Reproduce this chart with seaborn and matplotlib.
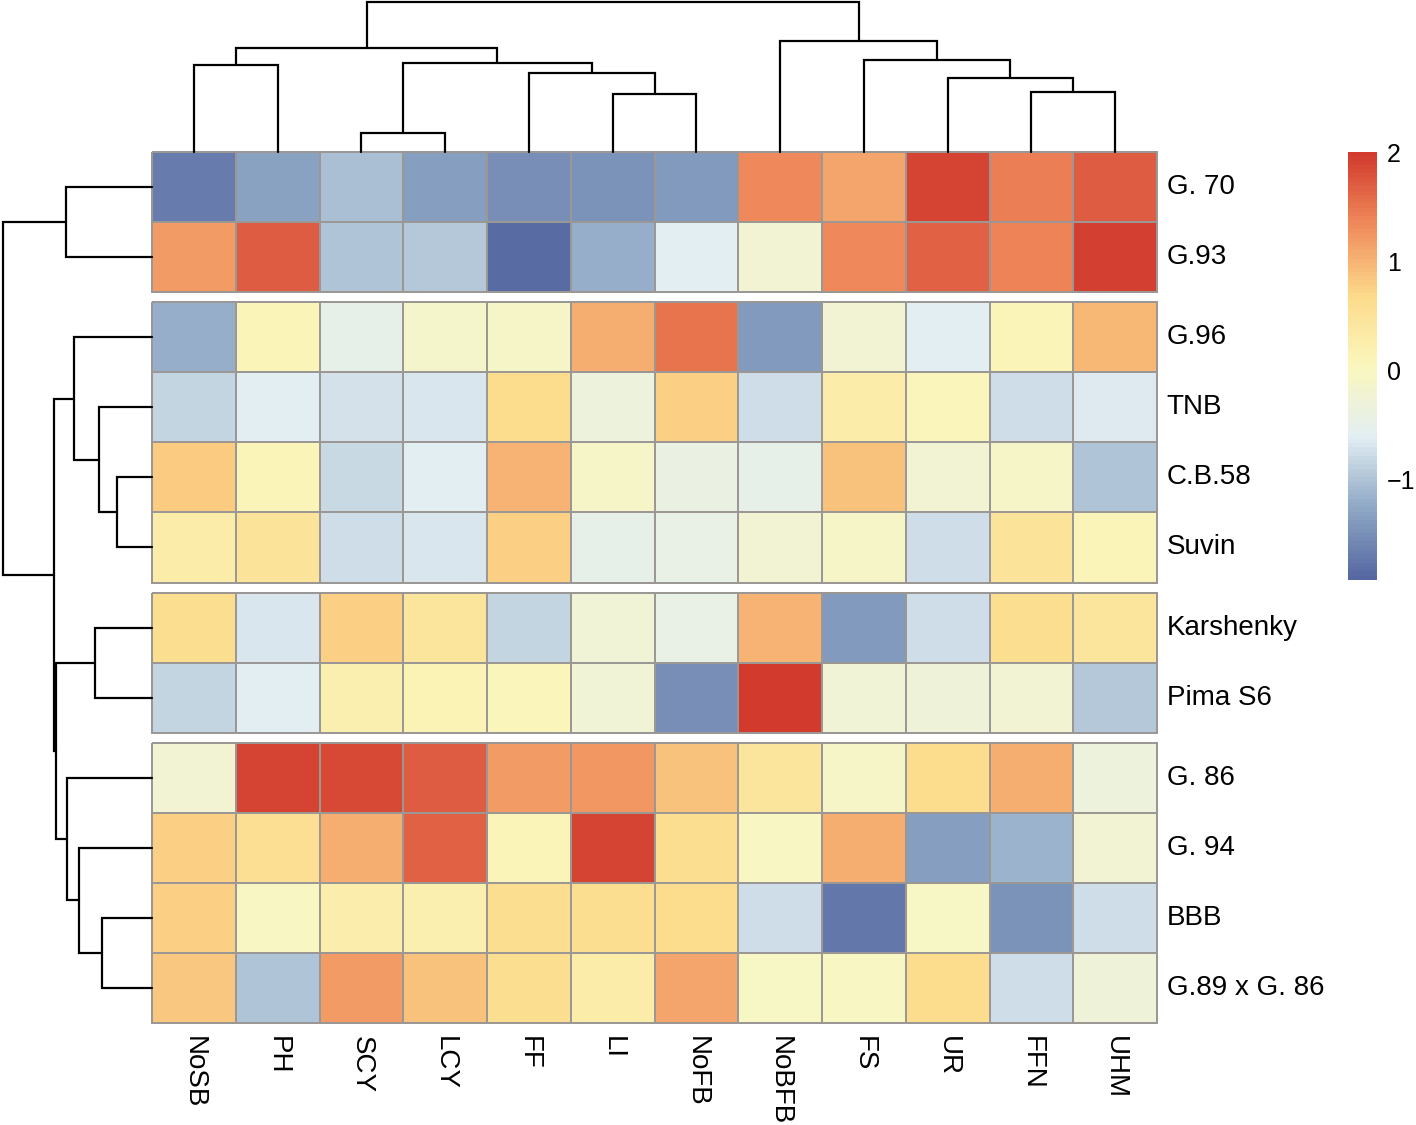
import numpy as np
import pandas as pd
import matplotlib
matplotlib.use("Agg")
import matplotlib.pyplot as plt
import seaborn as sns
from matplotlib.colors import LinearSegmentedColormap, Normalize
from matplotlib.cm import ScalarMappable

sns.set_style("white")
plt.rcParams['font.family'] = ['Liberation Sans', 'DejaVu Sans']
plt.rcParams['text.color'] = 'black'
plt.rcParams['xtick.color'] = 'black'
plt.rcParams['ytick.color'] = 'black'

# ---------------- data ----------------
traits = ["NoSB", "PH", "SCY", "LCY", "FF", "LI", "NoFB", "NoBFB", "FS", "UR", "FFN", "UHM"]
genotypes = ["G. 70", "G.93", "G.96", "TNB", "C.B.58", "Suvin", "Karshenky",
             "Pima S6", "G. 86", "G. 94", "BBB", "G.89 x G. 86"]
row_groups = [2, 4, 2, 4]

g70 = [-1.70, -1.30, -1.05, -1.35, -1.50, -1.45, -1.40, 1.35, 1.10, 1.90, 1.45, 1.70]
g93 = [1.20, 1.70, -1.00, -0.95, -1.85, -1.20, -0.60, -0.20, 1.35, 1.65, 1.40, 1.95]
g96 = [-1.20, 0.10, -0.50, -0.15, -0.10, 1.05, 1.50, -1.40, -0.20, -0.62, 0.10, 0.95]
tnb = [-0.85, -0.60, -0.72, -0.67, 0.65, -0.35, 0.75, -0.75, 0.30, 0.05, -0.75, -0.63]
cb58 = [0.80, 0.10, -0.80, -0.60, 1.00, -0.10, -0.40, -0.50, 0.90, -0.20, -0.10, -1.00]
suvin = [0.30, 0.50, -0.75, -0.67, 0.75, -0.50, -0.45, -0.20, -0.10, -0.75, 0.50, 0.10]
karsh = [0.60, -0.67, 0.75, 0.45, -0.85, -0.25, -0.45, 1.00, -1.40, -0.75, 0.60, 0.45]
pima = [-0.85, -0.60, 0.20, 0.15, 0.05, -0.25, -1.50, 2.00, -0.25, -0.30, -0.20, -0.95]
g86 = [-0.20, 1.90, 1.85, 1.70, 1.20, 1.25, 0.90, 0.45, -0.10, 0.65, 1.05, -0.35]
g94 = [0.75, 0.55, 1.05, 1.65, 0.10, 1.90, 0.60, 0.00, 1.05, -1.35, -1.15, -0.20]
bbb = [0.75, 0.00, 0.25, 0.20, 0.60, 0.62, 0.65, -0.75, -1.75, -0.05, -1.45, -0.75]
g89 = [0.85, -1.00, 1.20, 0.90, 0.60, 0.30, 1.10, -0.05, 0.00, 0.65, -0.75, -0.30]

# hierarchical merges (child_a, child_b, height); ids < 12 are leaves
col_merges = [(2, 3, 1.9), (5, 6, 5.8), (10, 11, 6.0), (9, 14, 7.4), (4, 13, 7.9),
              (0, 1, 8.7), (12, 16, 8.9), (8, 15, 9.2), (17, 18, 10.4), (7, 19, 11.1),
              (20, 21, 15.0)]
row_merges = [(4, 5, 3.5), (10, 11, 5.0), (3, 12, 5.3), (6, 7, 5.7), (9, 13, 7.3),
              (2, 14, 7.8), (8, 16, 8.5), (0, 1, 8.6), (15, 18, 9.65), (17, 20, 9.8),
              (19, 21, 14.9)]

vmin, vmax = -1.92, 2.0

df = pd.DataFrame([g70, g93, g96, tnb, cb58, suvin, karsh, pima, g86, g94, bbb, g89],
                  index=genotypes, columns=traits)

cmap = LinearSegmentedColormap.from_list(
    "rdylbu_soft", ["#5667A1", "#8EA8C5", "#E3EEF2", "#FAF7BD", "#FCDA8A", "#F08A5B", "#D13A2D"], N=100)

# ---------------- layout ----------------
W, H = 1416, 1125
fig = plt.figure(figsize=(W / 100, H / 100), dpi=100)
fig.patch.set_facecolor("white")


def px_axes(x0, y0, x1, y1):
    return fig.add_axes([x0 / W, 1 - y1 / H, (x1 - x0) / W, (y1 - y0) / H])


hm_left, hm_right, hm_top, hm_bottom, gap = 152, 1157, 152, 1023, 10
n_rows = len(genotypes)
row_h = (hm_bottom - hm_top - gap * (len(row_groups) - 1)) / n_rows
FS = 20
LW_DENDRO = 1.6

row_centers = []
start = 0
y0 = hm_top
for gi, size in enumerate(row_groups):
    y1 = y0 + size * row_h
    ax = px_axes(hm_left, y0, hm_right, y1)
    last = gi == len(row_groups) - 1
    sub = df.iloc[start:start + size]
    sns.heatmap(sub, ax=ax, cmap=cmap, vmin=vmin, vmax=vmax, cbar=False,
                linewidths=1.3, linecolor="#9b9794",
                xticklabels=traits if last else False, yticklabels=True)
    ax.collections[0].set_clip_on(False)
    ax.yaxis.tick_right()
    ax.set_yticklabels(sub.index, rotation=0, fontsize=FS, ha="left", va="center",
                       color="black")
    ax.tick_params(axis="y", length=0, pad=7)
    ax.set_xlabel("")
    ax.set_ylabel("")
    if last:
        ax.set_xticklabels(traits, rotation=270, fontsize=FS, ha="center", va="top",
                           color="black")
        ax.tick_params(axis="x", length=0, pad=9)
    for i in range(size):
        row_centers.append(y0 + (i + 0.5) * row_h)
    start += size
    y0 = y1 + gap


def draw_dendro(ax, merges, leaf_pos, orient):
    pos = {i: p for i, p in enumerate(leaf_pos)}
    hgt = {i: 0.0 for i in range(len(leaf_pos))}
    nid = len(leaf_pos)
    for a, b, h in merges:
        pa, pb, ha_, hb = pos[a], pos[b], hgt[a], hgt[b]
        xs = [pa, pa, pb, pb]
        ys = [ha_, h, h, hb]
        if orient == "top":
            ax.plot(xs, ys, color="black", lw=LW_DENDRO, clip_on=False, solid_joinstyle="miter")
        else:
            ax.plot(ys, xs, color="black", lw=LW_DENDRO, clip_on=False, solid_joinstyle="miter")
        pos[nid] = (pa + pb) / 2
        hgt[nid] = h
        nid += 1
    ax.axis("off")


# column dendrogram
axc = px_axes(hm_left, 2, hm_right, hm_top)
axc.set_xlim(0, len(traits))
axc.set_ylim(0, 15.0)
draw_dendro(axc, col_merges, [i + 0.5 for i in range(len(traits))], "top")

# row dendrogram
axr = px_axes(3, hm_top, hm_left, hm_bottom)
axr.set_ylim(hm_bottom, hm_top)
axr.set_xlim(14.9, 0)
draw_dendro(axr, row_merges, row_centers, "left")

# colour legend
cax = px_axes(1348, 152, 1377, 580)
cb = fig.colorbar(ScalarMappable(norm=Normalize(vmin, vmax), cmap=cmap), cax=cax)
cb.set_ticks([-1, 0, 1, 2])
cb.outline.set_visible(False)
cax.tick_params(length=0, labelsize=18, pad=7, labelcolor="black")

fig.savefig("out.png", dpi=100, facecolor="white")
